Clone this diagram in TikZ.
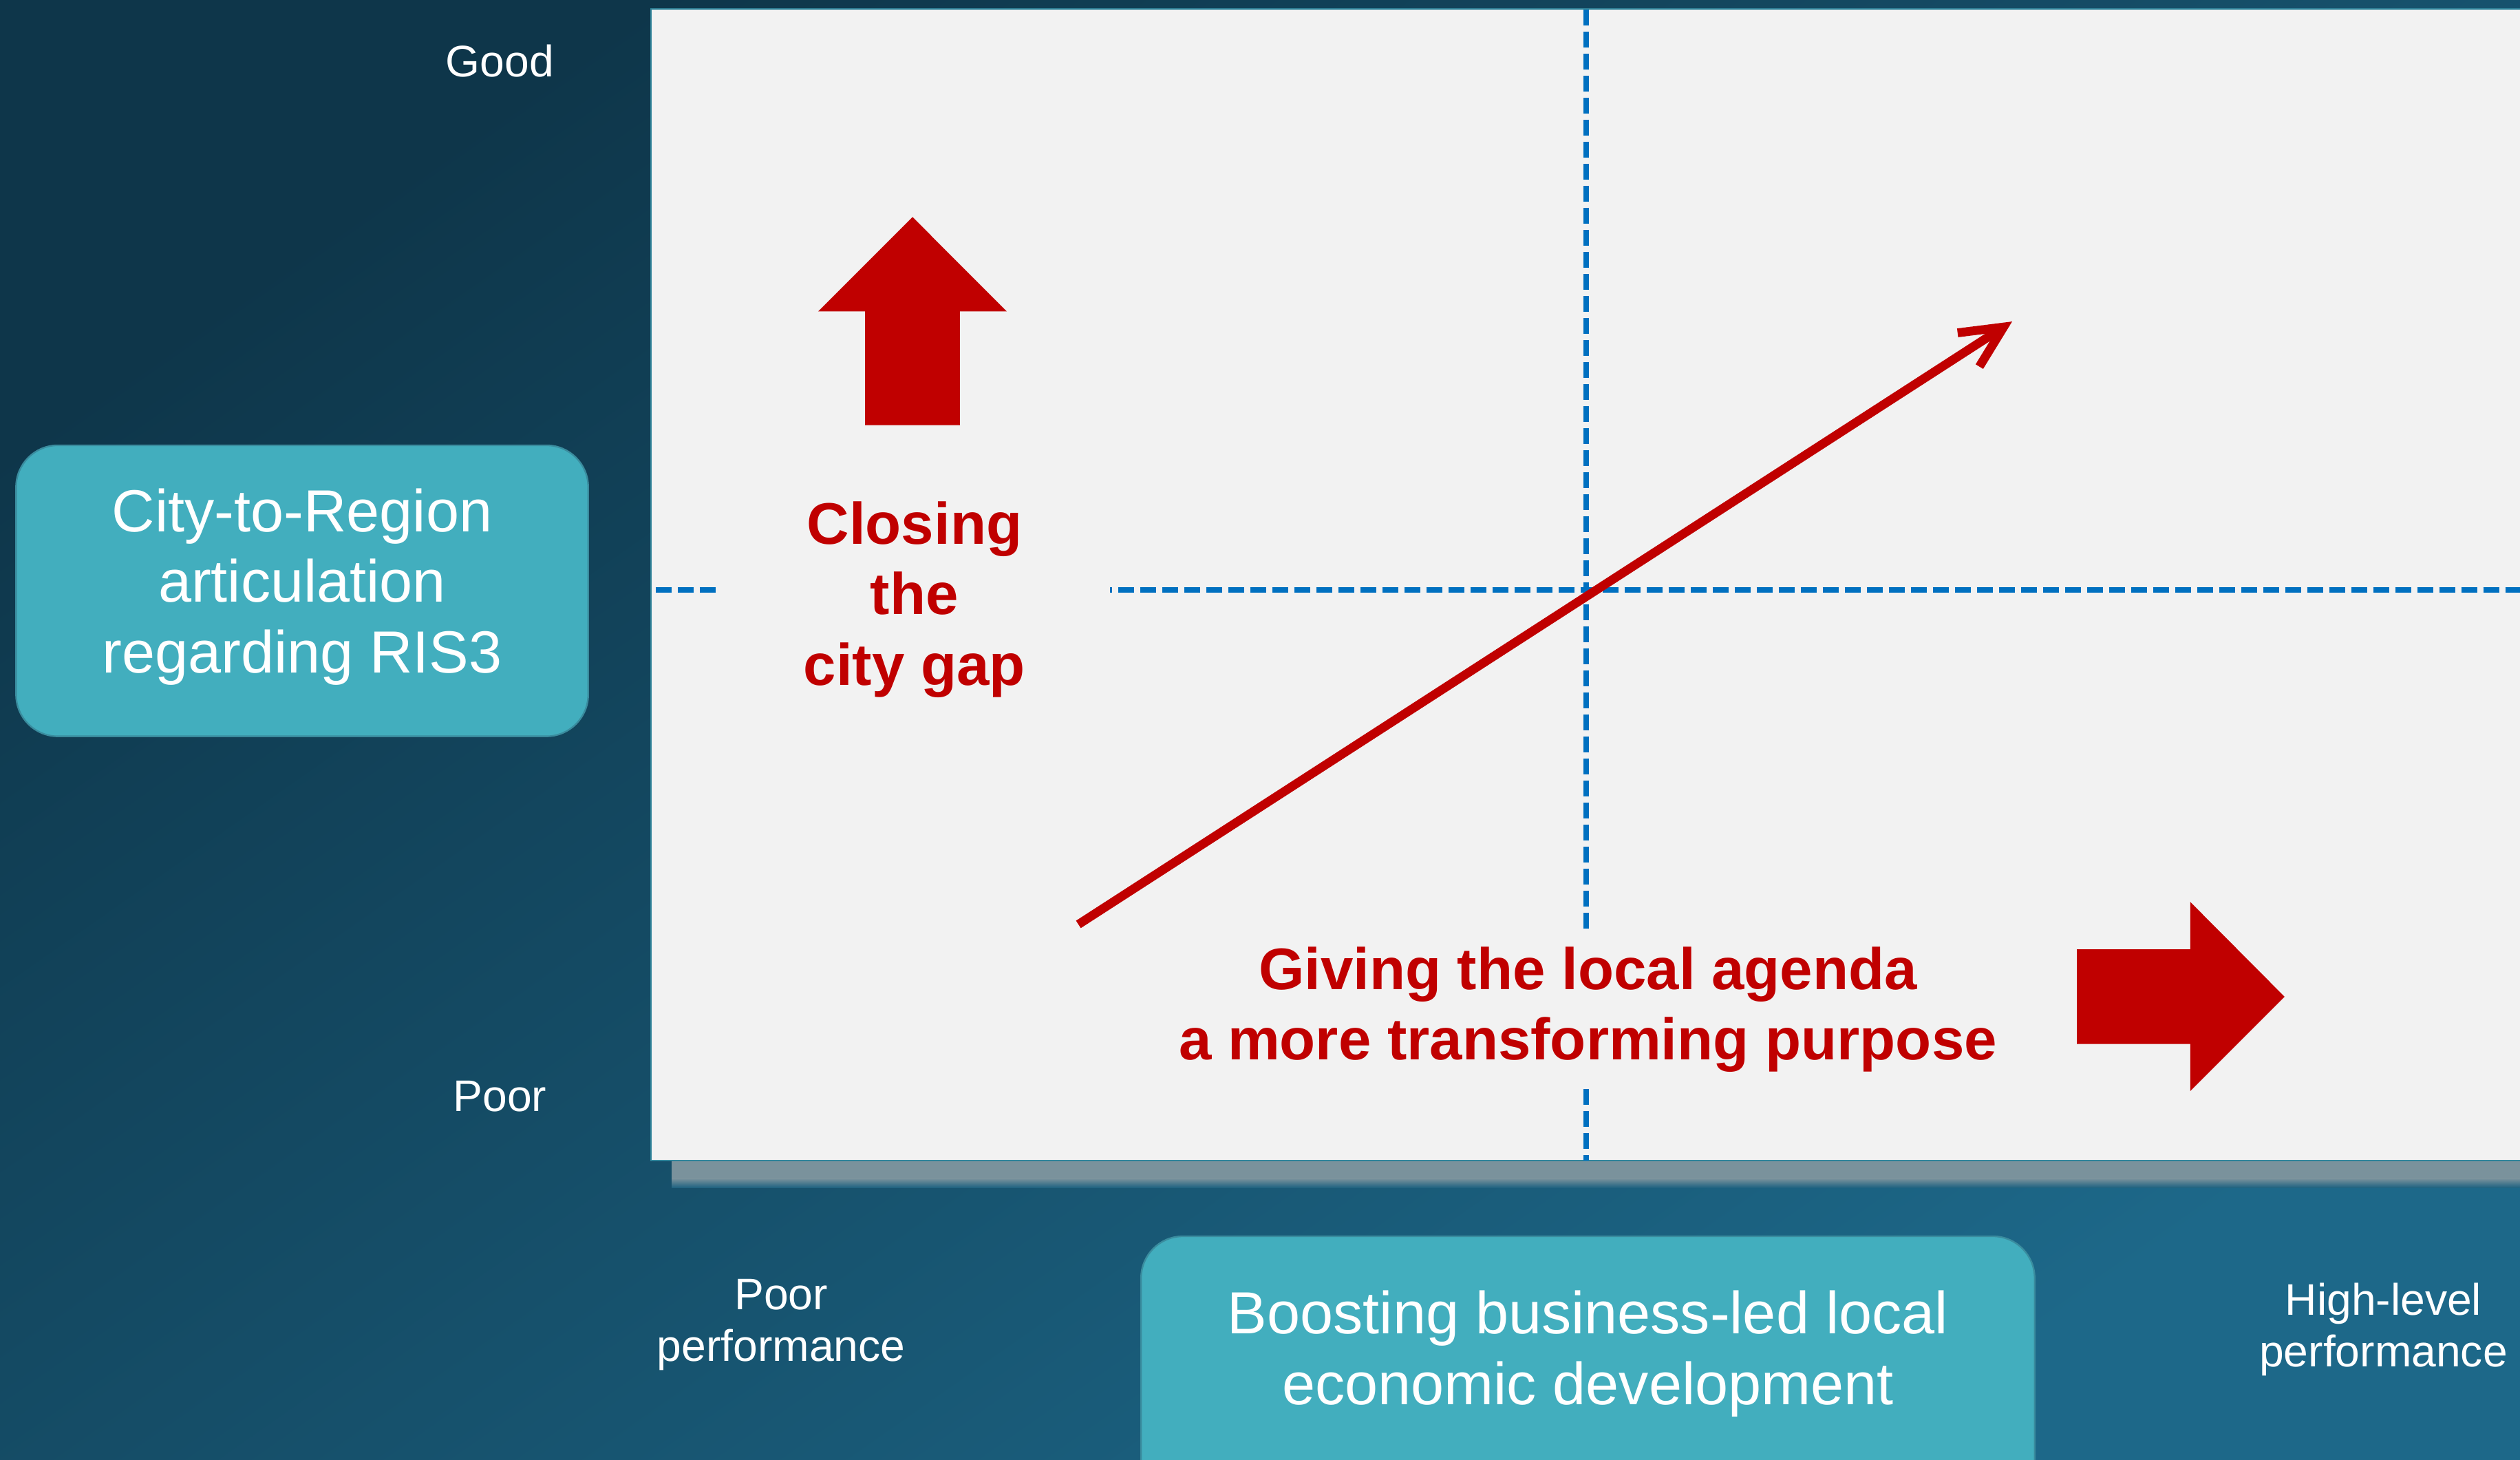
\documentclass[tikz,border=0pt]{standalone}
\usepackage{fontspec}
\setmainfont{Liberation Sans}
\usetikzlibrary{arrows.meta,positioning}
\definecolor{bgdark}{RGB}{14,54,74}
\definecolor{bglight}{RGB}{29,104,137}
\definecolor{panelgrey}{RGB}{242,242,242}
\definecolor{paneledge}{RGB}{49,133,155}
\definecolor{shadowgrey}{RGB}{122,146,156}
\definecolor{boxteal}{RGB}{66,174,190}
\definecolor{boxedge}{RGB}{58,140,158}
\definecolor{darkred}{RGB}{192,0,0}
\definecolor{dashblue}{RGB}{0,112,192}
\tikzstyle{axislabel}=[text=white, align=center, inner sep=0pt, font=\fontsize{27.5}{32}\selectfont]
\tikzstyle{topic}=[rectangle, rounded corners=26pt, fill=boxteal, draw=boxedge, line width=1pt]
\tikzstyle{topictext}=[text=white, align=center, inner sep=0pt, font=\fontsize{37}{44}\selectfont]
\tikzstyle{claim}=[fill=panelgrey, text=darkred, align=center, inner sep=0pt, font=\bfseries\fontsize{36.5}{44}\selectfont]
\tikzstyle{guide}=[dashblue, line width=3.5pt, dash pattern=on 10pt off 3.7pt]
\tikzstyle{trend}=[darkred, line width=5.5pt, -{Straight Barb[length=26pt, width=25pt]}]
\tikzstyle{blockarrow}=[fill=darkred]
\newcommand{\drawpanel}[0]
{
  \shade[top color=shadowgrey, bottom color=shadowgrey] (418,722) rectangle (1568,733);
  \shade[top color=shadowgrey, bottom color=bglight!85!bgdark] (418,733) rectangle (1568,739);
  \draw[fill=panelgrey, draw=paneledge, line width=1pt] (405,5.5) rectangle (1575,722);
  \coordinate (vtop) at (987,6);
  \coordinate (vbot) at (987,722);
  \coordinate (hleft) at (408,367);
  \coordinate (hright) at (1568,367);
}

\begin{document}
\begin{tikzpicture}[x=1pt, y=-1pt]
	\useasboundingbox (0,0) rectangle (1568,908);
	\shade[top color=bgdark, bottom color=bglight, shading angle=35] (0,0) rectangle (1568,908);

	\drawpanel{}

	\draw[guide] (vtop) -- (vbot);
	\draw[guide] (hleft) -- (hright);

	\node[axislabel](good) at (311,38) {Good};
	\node[axislabel](poor) at (311,682) {Poor};
	\node[axislabel](poorperf) at (486,824) {Poor\\performance};
	\node[axislabel](highperf) at (1483,827) {High-level\\performance};

	\node[topic, minimum width=356pt, minimum height=181pt](ris) at (188,367.5) {};
	\node[topictext](ristext) at (188,365) {City-to-Region\\articulation\\regarding RIS3};
	\draw[topic] (710,769) rectangle (1266,960);
	\node[topictext](boost) at (988,842) {Boosting business-led local\\economic development};

	\node[claim, minimum width=243pt](gap) at (569,373) {Closing\\the\\city gap};
	\node[claim, minimum height=97pt](agenda) at (988,628) {Giving the local agenda\\a more transforming purpose};

	\coordinate (trendstart) at (671,575);
	\coordinate (trendend) at (1252,200);
	\draw[trend] (trendstart) -- (trendend);

	\fill[blockarrow] (567.8,135) -- (626.4,193.7) -- (597.3,193.7) -- (597.3,264.5) -- (538.3,264.5) -- (538.3,193.7) -- (509.1,193.7) -- cycle;
	\fill[blockarrow] (1292.3,590.5) -- (1362.8,590.5) -- (1362.8,561) -- (1421.5,620) -- (1362.8,678.7) -- (1362.8,649.4) -- (1292.3,649.4) -- cycle;
\end{tikzpicture}
\end{document}
